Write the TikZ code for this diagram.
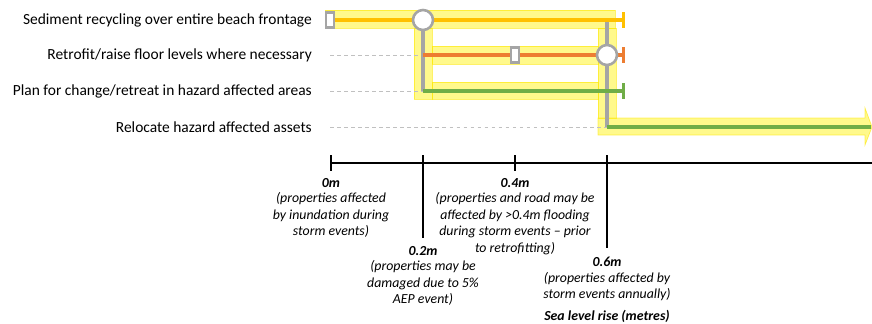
\documentclass[tikz,border=0pt]{standalone}
\usepackage{fontspec}
\setmainfont{Carlito}
\usetikzlibrary{arrows.meta,positioning}
\definecolor{amber}{HTML}{FFC000}
\definecolor{rust}{HTML}{ED7D31}
\definecolor{leaf}{HTML}{70AD47}
\definecolor{stone}{HTML}{A5A5A5}
\begin{document}
\begin{tikzpicture}[x=0.03cm, y=-0.03cm,
	lbl/.style={anchor=east, font=\fontsize{13.2}{15}\selectfont, inner sep=0pt},
	note/.style={align=center, font=\fontsize{11.8}{14}\selectfont\itshape, inner sep=0pt, anchor=north},
	val/.style={font=\fontsize{11.8}{14}\selectfont\bfseries\itshape, inner sep=0pt},
	band/.style={fill=yellow, fill opacity=0.45, draw=yellow!90!orange, draw opacity=0.6, line width=0.6pt},
	route/.style={line width=2.6pt, -{Bar[width=13pt, line width=2.4pt]}},
	link/.style={stone, line width=2.6pt},
	guide/.style={stone!70, dashed, line width=0.5pt},
	gate/.style={circle, draw=stone, fill=white, line width=2.2pt, minimum size=0.6cm, inner sep=0pt},
	stub/.style={rectangle, draw=stone, fill=white, line width=2.2pt, minimum width=0.24cm, minimum height=0.46cm, inner sep=0pt},
	tick/.style={black, line width=0.9pt}]
	\useasboundingbox (0,0) rectangle (872,323);

	% pathway labels
	\node[lbl] (p1) at (312,20) {Sediment recycling over entire beach frontage};
	\node[lbl] (p2) at (312,55) {Retrofit/raise floor levels where necessary};
	\node[lbl] (p3) at (312,91) {Plan for change/retreat in hazard affected areas};
	\node[lbl] (p4) at (312,127) {Relocate hazard affected assets};

	% yellow highlight of the route
	\draw[band] (325,10) rectangle (615,28);
	\draw[band] (414,28) rectangle (432,99);
	\draw[band] (432,46) rectangle (598,64);
	\draw[band] (432,82) rectangle (598,99);
	\draw[band] (598,28) rectangle (616,118);
	\draw[band] (598,118) -- (865,118) -- (865,108) -- (872,127) -- (865,145) -- (865,135) -- (598,135) -- cycle;

	% points on the pathways
	\coordinate (s1) at (330,20);
	\coordinate (e1) at (625,20);
	\coordinate (d2) at (330,55);
	\coordinate (s2) at (423,55);
	\coordinate (e2) at (625,55);
	\coordinate (d3) at (330,91);
	\coordinate (s3) at (423,91);
	\coordinate (e3) at (625,91);
	\coordinate (d4) at (330,127);
	\coordinate (s4) at (607,127);
	\coordinate (e4) at (871,127);
	\coordinate (t1) at (607,22);

	\draw[guide] (d2) -- (s2);
	\draw[guide] (d3) -- (s3);
	\draw[guide] (d4) -- (s4);

	\draw[link] (423,20) -- (s3);
	\draw[link] (t1) -- (s4);

	\draw[route, amber] (s1) -- (e1);
	\draw[route, rust] (s2) -- (e2);
	\draw[route, leaf] (s3) -- (e3);
	\draw[leaf, line width=2.6pt] (s4) -- (e4);

	\node[stub] (b1) at (s1) {};
	\node[stub] (b2) at (515,55) {};
	\node[gate] (g1) at (423,20) {};
	\node[gate] (g2) at (607,55) {};

	% sea level rise axis
	\coordinate (a0) at (331,163);
	\coordinate (a1) at (872,163);
	\draw[tick] (a0) -- (a1);
	\draw[tick] (331,155) -- (331,171);
	\draw[tick] (423,155) -- (423,238);
	\draw[tick] (515,155) -- (515,171);
	\draw[tick] (607,155) -- (607,248);

	\node[val] (v0) at (331,183) {0m};
	\node[note, below=4pt of v0] (n0) {(properties affected\\by inundation during\\storm events)};
	\node[val] (v2) at (423,251) {0.2m};
	\node[note, below=4pt of v2] (n2) {(properties may be\\damaged due to 5\%\\AEP event)};
	\node[val] (v4) at (515,183) {0.4m};
	\node[note, below=4pt of v4] (n4) {(properties and road may be\\affected by >0.4m flooding\\during storm events -- prior\\to retrofitting)};
	\node[val] (v6) at (607,262) {0.6m};
	\node[note, below=4pt of v6] (n6) {(properties affected by\\storm events annually)};
	\node[val] (ax) at (607,316) {Sea level rise (metres)};
\end{tikzpicture}
\end{document}
